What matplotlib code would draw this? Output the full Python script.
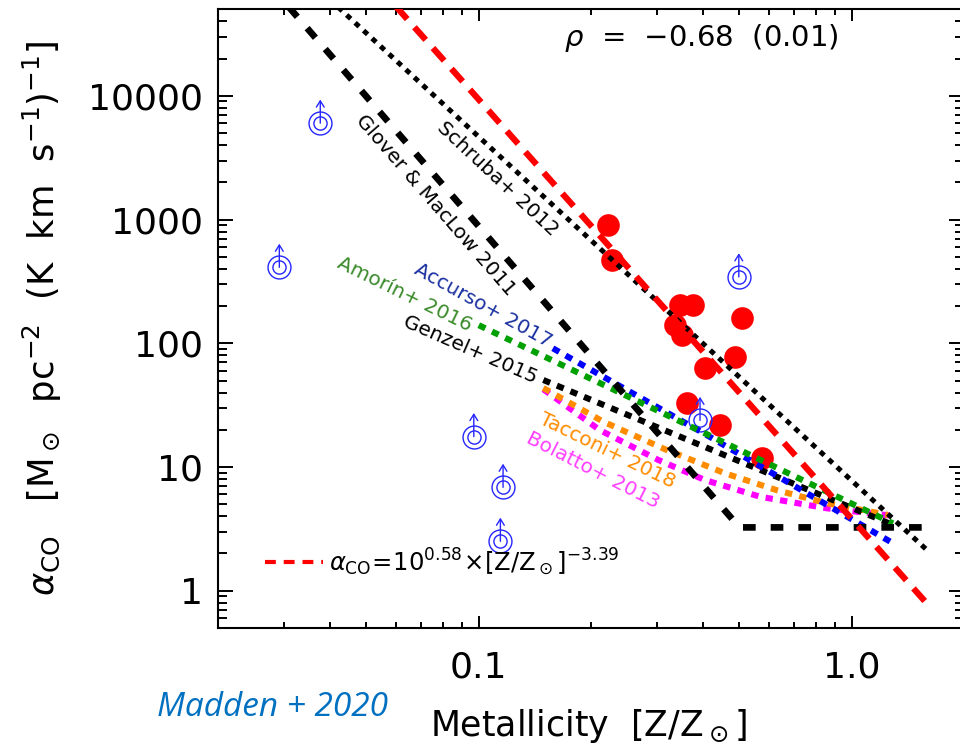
import numpy as np
import matplotlib.pyplot as plt
from matplotlib.ticker import FixedLocator, FixedFormatter, LogLocator, NullFormatter

# Molecular detections (filled) and lower limits (open, with arrows)
red_z = [0.222, 0.227, 0.346, 0.375, 0.336, 0.351, 0.509, 0.486, 0.404, 0.361, 0.444, 0.573]
red_a = [904, 471, 204, 204, 141, 117, 159, 77, 62.8, 32.9, 21.9, 11.8]
lim_z = [0.0376, 0.0292, 0.0970, 0.1162, 0.1143, 0.392, 0.498]
lim_a = [6010, 411, 17.6, 6.85, 2.51, 23.8, 344]

# Published alpha_CO - metallicity relations
schruba_z = [0.042, 1.6]
schruba_a = [52000, 2.1]
glover_z = [0.031, 0.5, 1.6]
glover_a = [52000, 3.25, 3.25]
accurso_z = [0.158, 0.40, 1.29]
accurso_a = [91.1, 18.8, 2.42]
amorin_z = [0.10, 0.40, 1.29]
amorin_a = [140, 19.0, 3.5]
genzel_z = [0.149, 0.40, 1.29]
genzel_a = [50.5, 14.7, 3.4]
tacconi_z = [0.149, 0.216, 0.316, 0.457, 0.629, 0.857, 1.25]
tacconi_a = [43.5, 23.2, 13.9, 8.9, 6.5, 5.1, 4.1]
bolatto_z = [0.149, 0.211, 0.303, 0.404, 0.568, 0.857, 1.28]
bolatto_a = [42.5, 19.9, 11.4, 7.85, 5.75, 4.64, 4.04]

# Fit to the detections
fit_coef = 0.58
fit_slope = -3.39
fit_z = np.array([0.06, 1.6])
fit_a = 10**fit_coef * fit_z**fit_slope

rho_text = r'$\rho$  =  $-$0.68  (0.01)'

fig = plt.figure(figsize=(9.6, 7.46), dpi=100)
ax = fig.add_axes([0.2271, 0.1582, 0.7771, 0.8293])
ax.set_xscale('log')
ax.set_yscale('log')
ax.set_xlim(0.02, 2.0)
ax.set_ylim(0.5, 50000)

# points
ax.plot(red_z, red_a, 'o', color='red', ms=16.3, mew=0, zorder=2)
blue = '#2626FF'
ax.plot(lim_z, lim_a, 'o', mfc='none', mec=blue, ms=16.5, mew=1.0, zorder=2)
ax.plot(lim_z, lim_a, 'o', mfc='none', mec=blue, ms=9.5, mew=1.0, zorder=2)
for z, a in zip(lim_z, lim_a):
    ax.annotate('', xy=(z, a), xytext=(0, 17), textcoords='offset points',
                arrowprops=dict(arrowstyle='<-, head_length=0.45, head_width=0.28',
                                color=blue, lw=1.0, shrinkA=0, shrinkB=0), zorder=2)

# relations
dot = dict(lw=4.4, dashes=(1.2, 1.2), dash_capstyle='butt', zorder=3)
ax.plot(bolatto_z, bolatto_a, color='#FF00FF', **dot)
ax.plot(tacconi_z, tacconi_a, color='#FF8C00', **dot)
ax.plot(genzel_z, genzel_a, color='black', **dot)
ax.plot(accurso_z, accurso_a, color='#0000FF', **dot)
ax.plot(amorin_z, amorin_a, color='#00A000', **dot)
ax.plot(glover_z, glover_a, color='black', lw=4.8, dashes=(1.9, 2.25),
        dash_capstyle='butt', zorder=4)
ax.plot(schruba_z, schruba_a, color='black', lw=3.6, dashes=(1.1, 1.2),
        dash_capstyle='butt', zorder=4)
ax.plot(fit_z, fit_a, color='red', lw=4.5, dashes=(2.7, 1.75),
        dash_capstyle='butt', zorder=4)

# relation labels
lab = dict(ha='center', va='center', rotation_mode='anchor', fontsize=14.5)
ax.text(0.1124, 2130, 'Schruba+ 2012', rotation=-43, color='black', **lab)
ax.text(0.0767, 1313, 'Glover & MacLow 2011', rotation=-49, color='black', **lab)
ax.text(0.0633, 250, 'Amorín+ 2016', rotation=-26, color='#3A8A2A', **lab)
ax.text(0.1025, 200, 'Accurso+ 2017', rotation=-29, color='#1A30A0', **lab)
ax.text(0.0952, 88.3, 'Genzel+ 2015', rotation=-23.5, color='black', **lab)
ax.text(0.2206, 13.5, 'Tacconi+ 2018', rotation=-26, color='#FF8C00', **lab)
ax.text(0.2023, 9.46, 'Bolatto+ 2013', rotation=-27, color='#FF40FF', **lab)

# fit legend
ax.plot([0.0267, 0.0382], [1.7, 1.7], color='red', lw=3.0, dashes=(2.6, 1.9),
        dash_capstyle='butt')
ax.text(0.0398, 1.7, r'$\alpha_{\rm CO}\!=\!10^{0.58}\!\times\![{\rm Z}/{\rm Z}_\odot]^{-3.39}$',
        fontsize=17.5, va='center', ha='left')

ax.text(0.6475, 0.953, rho_text, transform=ax.transAxes, fontsize=21,
        ha='center', va='center')

# axes styling
ax.xaxis.set_major_locator(FixedLocator([0.1, 1.0]))
ax.xaxis.set_major_formatter(FixedFormatter(['0.1', '1.0']))
ax.xaxis.set_minor_locator(LogLocator(base=10, subs=np.arange(2, 10)))
ax.xaxis.set_minor_formatter(NullFormatter())
ax.yaxis.set_major_locator(FixedLocator([1, 10, 100, 1000, 10000]))
ax.yaxis.set_major_formatter(FixedFormatter(['1', '10', '100', '1000', '10000']))
ax.yaxis.set_minor_locator(LogLocator(base=10, subs=np.arange(2, 10)))
ax.yaxis.set_minor_formatter(NullFormatter())

ax.tick_params(which='both', direction='in', top=True, right=True, width=1.4,
               labelsize=26)
ax.tick_params(axis='x', which='major', length=8.3, pad=16)
ax.tick_params(axis='x', which='minor', length=4.3)
ax.tick_params(axis='y', which='major', length=10.8, pad=11)
ax.tick_params(axis='y', which='minor', length=6.2)
for s in ax.spines.values():
    s.set_linewidth(1.5)

ax.set_xlabel(r'Metallicity  $[{\rm Z}/{\rm Z}_\odot]$', fontsize=25)
ax.xaxis.set_label_coords(0.497, -0.128)
ax.set_ylabel(r'$\alpha_{\rm CO}$   $[{\rm M}_\odot\ \ {\rm pc}^{-2}\ \ ({\rm K\ \ km\ \ s}^{-1})^{-1}]$',
              fontsize=25.5)
ax.yaxis.set_label_coords(-0.207, 0.5)

fig.text(157 / 960, 30 / 746, 'Madden + 2020', color='#0070C0', fontsize=24,
         style='italic', family='Open Sans', ha='left', va='baseline')

fig.savefig('out.png', dpi=100)
